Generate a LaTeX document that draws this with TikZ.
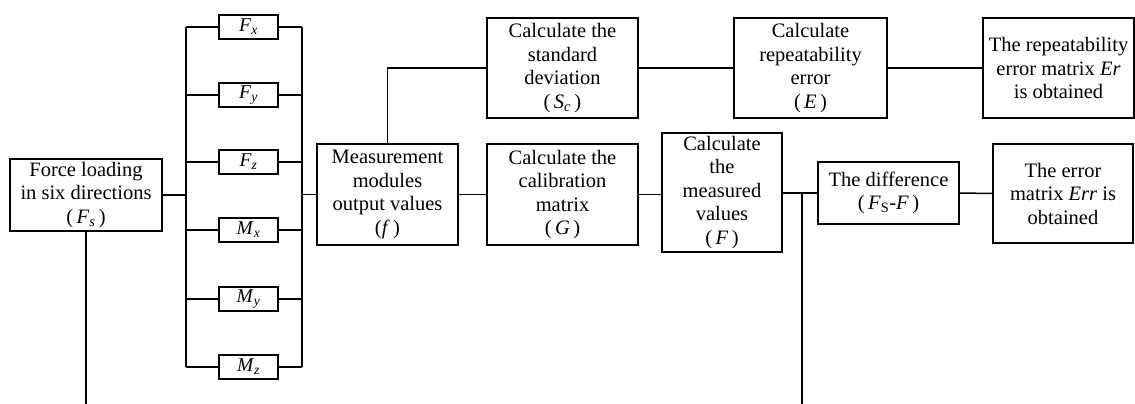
\documentclass[tikz,border=0pt]{standalone}
\usepackage{fontspec}
\setmainfont{Liberation Serif}
\newcommand\sbx[2]{\textit{#1}\textsubscript{\textit{#2}}}
\begin{document}
\begin{tikzpicture}[x=1pt,y=-1pt,line width=1.5pt,
  box/.style={draw,line width=1.5pt,align=center,inner sep=0pt,font=\fontsize{20.5}{23.5}\selectfont},
  sbox/.style={draw,line width=1.5pt,inner sep=0pt,minimum width=59pt,minimum height=24pt,font=\fontsize{19.5}{21}\selectfont},
  wire/.style={line width=1.5pt}]
\useasboundingbox (0,0) rectangle (1135,404);
% main boxes
\node[box,minimum width=152pt,minimum height=72pt] (force) at (86,195) {Force loading\\in six directions\\(\,\sbx{F}{s}\,)};
\node[box,minimum width=141pt,minimum height=101pt] (meas) at (387.5,194.5) {Measurement\\modules\\output values\\(\textit{f}\,)};
\node[box,minimum width=151pt,minimum height=100pt] (std) at (562.5,68) {Calculate the\\standard\\deviation\\(\,\sbx{S}{c}\,)};
\node[box,minimum width=151pt,minimum height=101pt] (calib) at (562.5,194.5) {Calculate the\\calibration\\matrix\\(\,\textit{G}\,)};
\node[box,minimum width=120pt,minimum height=119pt] (measured) at (722,192.5) {Calculate\\the\\measured\\values\\(\,\textit{F}\,)};
\node[box,minimum width=141pt,minimum height=62pt] (diff) at (888.5,193) {The difference\\(\,\textit{F}\textsubscript{S}-\textit{F}\,)};
\node[box,minimum width=140pt,minimum height=99pt] (err) at (1063,193.5) {The error\\matrix \textit{Err} is\\obtained};
\node[box,minimum width=153pt,minimum height=100pt] (rep) at (810.5,68) {Calculate\\repeatability\\error\\(\,\textit{E}\,)};
\node[box,minimum width=151pt,minimum height=100pt] (er) at (1058.5,68) {The repeatability\\error matrix \textit{Er}\\is obtained};
% small boxes
\node[sbox] (fx) at (248.5,27) {\sbx{F}{x}};
\node[sbox] (fy) at (248.5,95) {\sbx{F}{y}};
\node[sbox] (fz) at (248.5,162) {\sbx{F}{z}};
\node[sbox] (mx) at (248.5,230) {\sbx{M}{x}};
\node[sbox] (my) at (248.5,299) {\sbx{M}{y}};
\node[sbox] (mz) at (248.5,367) {\sbx{M}{z}};
% bus coordinates
\coordinate (bLt) at (186,27);
\coordinate (bLb) at (186,367);
\coordinate (bRt) at (302,27);
\coordinate (bRb) at (302,367);
\coordinate (fb) at (86,404);
\coordinate (j) at (802,193);
\coordinate (jb) at (802,404);
% wires
\draw[wire] (bLt) -- (bLb);
\draw[wire] (bRt) -- (bRb);
\foreach \n in {fx,fy,fz,mx,my,mz}{
  \draw[wire] (\n.west -| bLt) -- (\n.west);
  \draw[wire] (\n.east) -- (\n.east -| bRt);
}
\draw[wire] (force.east) -- (force.east -| bLt);
\draw[wire] (meas.west -| bRt) -- (meas.west);
\draw[wire] (force.south) -- (fb);
\draw[wire] (meas.north) |- (std.west);
\draw[wire] (std.east) -- (rep.west);
\draw[wire] (rep.east) -- (er.west);
\draw[wire] (meas.east) -- (calib.west);
\draw[wire] (calib.east) -- (calib.east -| measured.west);
\draw[wire] (measured.east |- j) -- (diff.west);
\draw[wire] (j) -- (jb);
\draw[wire] (diff.east) -- (err.west);
\end{tikzpicture}
\end{document}
